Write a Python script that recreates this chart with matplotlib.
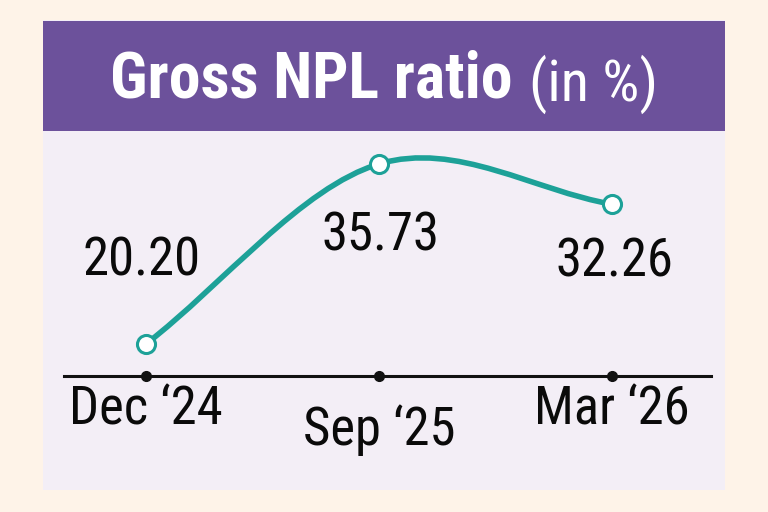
import matplotlib
matplotlib.use("Agg")
import matplotlib.pyplot as plt
from matplotlib import font_manager
from matplotlib.patches import Rectangle, PathPatch
from matplotlib.path import Path
from matplotlib.text import Annotation
from matplotlib.transforms import ScaledTranslation

# Data
periods = ["Dec \u201824", "Sep \u201825", "Mar \u201826"]
npl_ratio = [20.20, 35.73, 32.26]
value_labels = ["20.20", "35.73", "32.26"]
title_main = "Gross NPL ratio"
title_unit = "(in %)"

# Colours
bg_color = "#FEF3E8"
panel_color = "#F3EEF6"
header_color = "#6C519B"
line_color = "#1DA198"


def pick_font(candidates):
    for name in candidates:
        try:
            font_manager.findfont(name, fallback_to_default=False)
            return name
        except ValueError:
            continue
    return "DejaVu Sans"


font = pick_font(["Roboto Condensed", "Liberation Sans Narrow", "DejaVu Sans Condensed", "Roboto"])
plt.rcParams['font.family'] = [font, 'DejaVu Sans']

fig = plt.figure(figsize=(7.68, 5.12), dpi=100, facecolor=bg_color)

# Panel and header boxes
fig.patches.append(Rectangle((0.056, 0.043), 0.888, 0.918, transform=fig.transFigure,
                             facecolor=panel_color, edgecolor="none", zorder=-2))
fig.patches.append(Rectangle((0.056, 0.744), 0.888, 0.215, transform=fig.transFigure,
                             facecolor=header_color, edgecolor="none", zorder=-1))

# Title
t1 = fig.text(0.143, 0.809, title_main, color="white", fontsize=46, fontweight="bold",
              ha="left", va="baseline")
unit = Annotation(title_unit, xy=(1, 0), xycoords=t1, xytext=(12, -2),
                  textcoords="offset points", color="white", fontsize=42,
                  ha="left", va="bottom", annotation_clip=False)
fig.add_artist(unit)

# Chart area
ax = fig.add_axes([0.0833, 0.2656, 0.8424, 0.461])
ax.set_facecolor("none")
x = list(range(len(npl_ratio)))
ax.set_xlim(-0.352, 2.425)
ax.set_ylim(17.44, 37.8)

# Smooth curve through the points (Catmull-Rom style Bezier segments)
pts = list(zip(x, npl_ratio))
tangents = []
for i in range(len(pts)):
    prev_p = pts[max(i - 1, 0)]
    next_p = pts[min(i + 1, len(pts) - 1)]
    scale = 0.5 if 0 < i < len(pts) - 1 else 1.0
    tangents.append(((next_p[0] - prev_p[0]) * scale, (next_p[1] - prev_p[1]) * scale))

verts = [pts[0]]
codes = [Path.MOVETO]
for i in range(len(pts) - 1):
    p0, p1 = pts[i], pts[i + 1]
    t0, t1_ = tangents[i], tangents[i + 1]
    verts += [(p0[0] + t0[0] / 3, p0[1] + t0[1] / 3),
              (p1[0] - t1_[0] / 3, p1[1] - t1_[1] / 3),
              p1]
    codes += [Path.CURVE4] * 3
ax.add_patch(PathPatch(Path(verts, codes), facecolor="none", edgecolor=line_color,
                       linewidth=4, capstyle="round", zorder=3))
ax.plot(x, npl_ratio, linestyle="none", marker="o", markersize=13,
        markerfacecolor="white", markeredgecolor=line_color, markeredgewidth=2.2, zorder=4)

# Value labels
label_offsets = [(-3, 49), (1, -62), (2, -52)]
for xi, yi, lab, off in zip(x, npl_ratio, value_labels, label_offsets):
    ax.annotate(lab, xy=(xi, yi), xytext=off, textcoords="offset points",
                ha="center", va="baseline", fontsize=38, color="#0A0A0A")

# Axis
for side in ["top", "right", "left"]:
    ax.spines[side].set_visible(False)
ax.spines["bottom"].set_linewidth(2.2)
ax.spines["bottom"].set_color("#111111")
ax.set_yticks([])
ax.set_xticks(x)
ax.set_xticklabels(periods, fontsize=38, color="#0A0A0A")
ax.tick_params(axis="x", length=0, pad=6)
ax.plot(x, [ax.get_ylim()[0]] * len(x), linestyle="none", marker="o", markersize=7,
        color="#111111", clip_on=False, zorder=5)

# Middle tick label sits lower
mid = ax.get_xticklabels()[1]
mid.set_transform(mid.get_transform() + ScaledTranslation(0, -14 / 72, fig.dpi_scale_trans))

fig.savefig("out.png", dpi=100, facecolor=bg_color)
